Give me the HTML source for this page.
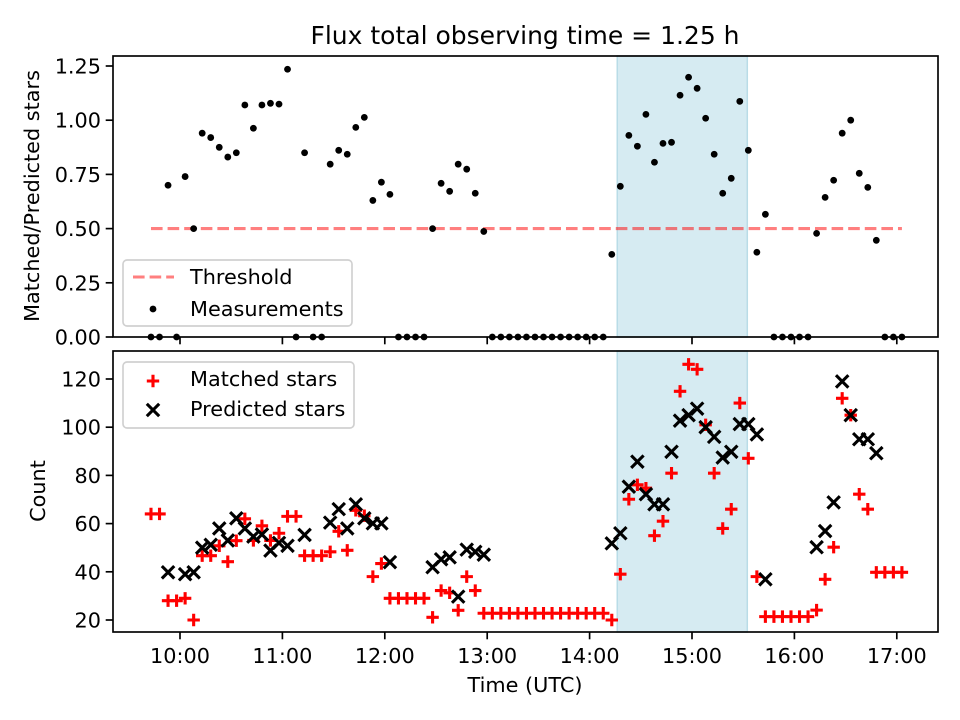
<!DOCTYPE html>
<html><head><meta charset="utf-8"><style>
html,body{margin:0;padding:0;background:#fff;}
svg{display:block;font-family:"DejaVu Sans","Liberation Sans",sans-serif;}
</style></head><body>
<svg id="fig" width="960" height="720" viewBox="0 0 960 720" xmlns="http://www.w3.org/2000/svg">
<rect width="960" height="720" fill="#fff"/>
<g id="topPanel"></g>
<g id="botPanel"></g>
<text x="525" y="44" font-size="25" text-anchor="middle" fill="#000">Flux total observing time = 1.25 h</text>
<text x="525" y="692" font-size="20.8" text-anchor="middle" fill="#000">Time (UTC)</text>
<text transform="translate(39,196) rotate(-90)" font-size="20.8" text-anchor="middle" fill="#000">Matched/Predicted stars</text>
<text transform="translate(45,491) rotate(-90)" font-size="20.8" text-anchor="middle" fill="#000">Count</text>
</svg>
<script>
// minutes since midnight for each sample
const times = [583,588,593,598,603,608,613,618,623,628,633,638,643,648,653,658,663,668,673,678,683,688,693,698,703,708,713,718,723,728,733,738,743,748,753,758,763,768,773,778,783,788,793,798,803,808,813,818,823,828,833,838,843,848,853,858,863,868,873,878,883,888,893,898,903,908,913,918,923,928,933,938,943,948,953,958,963,968,973,978,983,988,993,998,1003,1008,1013,1018,1023];
const ratio = [0,0,0.70,0,0.74,0.50,0.94,0.92,0.875,0.83,0.85,1.07,0.963,1.07,1.078,1.074,1.235,0,0.85,0,0,0.797,0.861,0.843,0.967,1.013,0.63,0.714,0.658,0,0,0,0,0.50,0.709,0.672,0.797,0.774,0.663,0.487,0,0,0,0,0,0,0,0,0,0,0,0,0,0,0.381,0.695,0.93,0.88,1.027,0.806,0.893,0.898,1.115,1.198,1.147,1.009,0.843,0.663,0.732,1.087,0.861,0.391,0.566,0,0,0,0,0,0.478,0.644,0.723,0.94,1.0,0.755,0.69,0.446,0,0,0];
const matched = [64,64,28,28,29,20,46.7,46.7,50.8,44.2,52.9,62,53,59.1,53,56,63,63,46.7,46.7,46.7,48.3,56.8,48.9,65.5,63.3,38,43.4,29,29,29,29,29,21.1,32.2,31.3,24,38,32.2,22.8,22.8,22.8,22.8,22.8,22.8,22.8,22.8,22.8,22.8,22.8,22.8,22.8,22.8,22.8,20,39,70.1,76.1,74.7,55,61,80.9,114.9,126.1,124,101,80.9,58,66,110,87.1,38,21.4,21.4,21.4,21.4,21.4,21.4,24.1,36.9,50.2,112,105,72.2,66,39.8,39.8,39.8,39.8];
const predicted = [null,null,39.8,null,39,39.8,50,51.2,58,53,62.2,58,54.6,55.5,48.8,52,50.8,null,55.3,null,null,60.4,66,58,68,62.2,60.1,60.1,44,null,null,null,null,41.9,45.2,46,29.7,49.2,48.3,47.1,null,null,null,null,null,null,null,null,null,null,null,null,null,null,51.8,56,75.3,85.7,72.2,68,68,89.8,102.7,105,107.7,100,96,87.4,89.8,101.3,101.3,97,36.9,null,null,null,null,null,50.2,56.9,68.8,119,105,95,95,89.2,null,null,null];
const xTickMinutes = [600,660,720,780,840,900,960,1020];
const xTickLabels = ["10:00","11:00","12:00","13:00","14:00","15:00","16:00","17:00"];
const topTicks = [0,0.25,0.5,0.75,1.0,1.25];
const topTickLabels = ["0.00","0.25","0.50","0.75","1.00","1.25"];
const botTicks = [20,40,60,80,100,120];
const botTickLabels = ["20","40","60","80","100","120"];
const threshold = 0.5;
const shadeStart = 856.2, shadeEnd = 932.4;

const NS="http://www.w3.org/2000/svg";
const L=113,R=938;
const T1=56,B1=337,T2=351,B2=632;
const xS=m=>180+(m-600)*102.4/60;
const yTop=v=>337-v*216.8;
const yBot=v=>620-(v-20)*2.41;
function mk(parent,tag,attrs){const e=document.createElementNS(NS,tag);for(const k in attrs)e.setAttribute(k,attrs[k]);parent.appendChild(e);return e;}
const topG=document.getElementById('topPanel'), botG=document.getElementById('botPanel');

// shading
[[topG,T1,B1],[botG,T2,B2]].forEach(([g,t,b],i)=>{
  const r=mk(g,'rect',{x:xS(shadeStart),y:t,width:xS(shadeEnd)-xS(shadeStart),height:b-t,fill:'#d6ebf2',stroke:'#b9dce7','stroke-width':1.5});
  
  
});
// threshold
const th=mk(topG,'line',{x1:xS(times[0]),x2:xS(times[times.length-1]),y1:yTop(threshold),y2:yTop(threshold),stroke:'rgba(255,0,0,0.5)','stroke-width':3.1,'stroke-dasharray':'11.6 5'});


// measurements
times.forEach((t,i)=>{
  const c=mk(topG,'circle',{cx:xS(t),cy:yTop(ratio[i]),r:3.4,fill:'#000'});
  
  
});
// matched / predicted
function plus(g,x,y,col){return mk(g,'path',{d:`M${x-6.2},${y}H${x+6.2}M${x},${y-6.2}V${y+6.2}`,stroke:col,'stroke-width':3.1,fill:'none'});}
function cross(g,x,y,col){const s=6.2;return mk(g,'path',{d:`M${x-s},${y-s}L${x+s},${y+s}M${x-s},${y+s}L${x+s},${y-s}`,stroke:col,'stroke-width':3.1,fill:'none'});}
times.forEach((t,i)=>{
  const p=plus(botG,xS(t),yBot(matched[i]),'#ff0000');
  
  
});
times.forEach((t,i)=>{
  if(predicted[i]===null)return;
  const p=cross(botG,xS(t),yBot(predicted[i]),'#000');
  
  
});
// axes frames & ticks
function axes(g,t,b,ticks,labels,ys,nm,xlabels){
  const f=mk(g,'rect',{x:L,y:t,width:R-L,height:b-t,fill:'none',stroke:'#000','stroke-width':1.67});
  
  
  ticks.forEach((v,i)=>{
    const y=ys(v);
    mk(g,'line',{x1:L-7.3,x2:L,y1:y,y2:y,stroke:'#000','stroke-width':1.67});
    const tx=mk(g,'text',{x:L-12,y:y+7.5,'font-size':20.8,'text-anchor':'end',fill:'#000'});
    tx.textContent=labels[i];
    
    
  });
  xTickMinutes.forEach((m,i)=>{
    const x=xS(m);
    mk(g,'line',{x1:x,x2:x,y1:b,y2:b+7.3,stroke:'#000','stroke-width':1.67});
    if(xlabels){
      const tx=mk(g,'text',{x:x,y:b+31,'font-size':20.8,'text-anchor':'middle',fill:'#000'});
      tx.textContent=xTickLabels[i];
      
      
    }
  });
}
axes(topG,T1,B1,topTicks,topTickLabels,yTop,'top',false);
axes(botG,T2,B2,botTicks,botTickLabels,yBot,'bottom',true);

// legends
function legend(g,x,y,w,h,nm){const r=mk(g,'rect',{x:x,y:y,width:w,height:h,rx:4,fill:'rgba(255,255,255,0.8)',stroke:'#d0d0d0','stroke-width':1.67});}
legend(topG,123,260,229,66,'top-legend');
const ll=mk(topG,'line',{x1:133,x2:174,y1:277,y2:277,stroke:'rgba(255,0,0,0.5)','stroke-width':3.1,'stroke-dasharray':'11.6 5'});


let t1=mk(topG,'text',{x:190,y:284,'font-size':20.8,fill:'#000'});t1.textContent='Threshold';


const lc=mk(topG,'circle',{cx:153,cy:309,r:3.4,fill:'#000'});


let t2=mk(topG,'text',{x:190,y:316,'font-size':20.8,fill:'#000'});t2.textContent='Measurements';



legend(botG,123,362,231,66,'bottom-legend');
const lp=plus(botG,153,381,'#ff0000');


let t3=mk(botG,'text',{x:190,y:386,'font-size':20.8,fill:'#000'});t3.textContent='Matched stars';


const lx=cross(botG,153,410,'#000');


let t4=mk(botG,'text',{x:190,y:416,'font-size':20.8,fill:'#000'});t4.textContent='Predicted stars';


</script>
</body></html>
